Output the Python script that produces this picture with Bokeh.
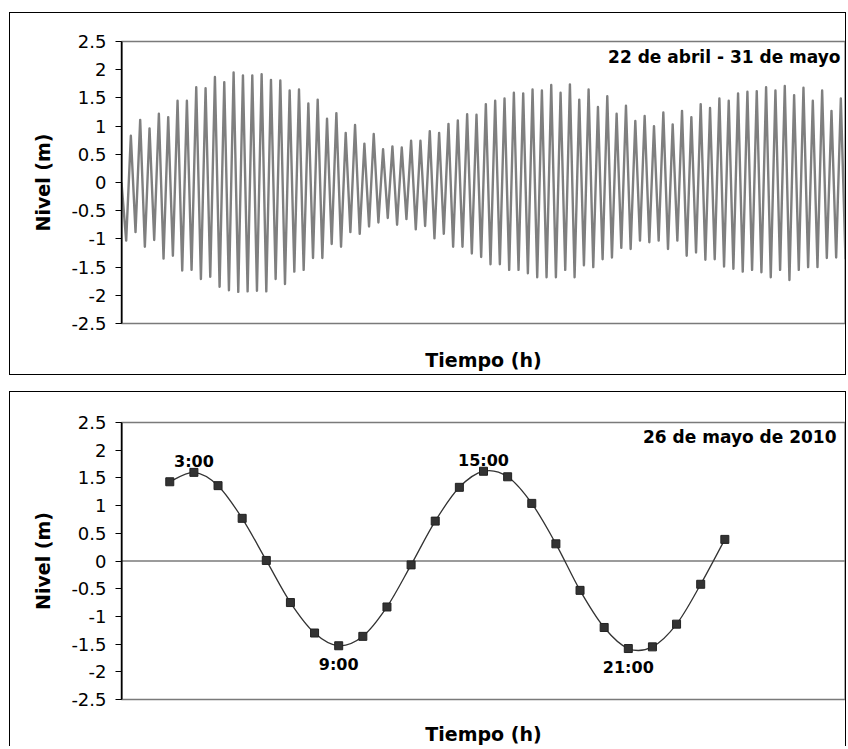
from bokeh.plotting import figure
from bokeh.models import Range1d, FixedTicker, Span, CustomJSTickFormatter
from bokeh.layouts import column
from bokeh.core.properties import value
from bokeh.embed import file_html
from bokeh.resources import INLINE

FONT = "DejaVu Sans"

# ---------------- data: top chart (extremes of each tidal half-cycle) ----------------
top_title = "22 de abril - 31 de mayo"
top_start = 0.0
top_lows = [-1.03, -0.88, -1.14, -1.02, -1.35, -1.30, -1.56, -1.55, -1.71, -1.67,
            -1.85, -1.91, -1.94, -1.93, -1.92, -1.93, -1.71, -1.80, -1.58, -1.55,
            -1.34, -1.34, -1.09, -1.14, -0.88, -0.91, -0.78, -0.71, -0.63, -0.75,
            -0.65, -0.83, -0.77,
            -0.99, -0.91, -1.14, -1.14, -1.26, -1.32, -1.45, -1.45, -1.55, -1.55,
            -1.61, -1.68, -1.68, -1.68, -1.55, -1.68, -1.47, -1.50, -1.36, -1.33,
            -1.16, -1.18, -1.03, -1.06, -1.03, -1.18, -1.03, -1.30, -1.24, -1.37,
            -1.36, -1.49, -1.53, -1.58, -1.55, -1.59, -1.68, -1.55, -1.73, -1.55,
            -1.50, -1.50, -1.34, -1.33]
top_highs = [0.83, 1.11, 0.96, 1.22, 1.16, 1.45, 1.45, 1.69, 1.67, 1.87,
             1.78, 1.95, 1.90, 1.90, 1.92, 1.82, 1.81, 1.63, 1.65, 1.40,
             1.47, 1.13, 1.23, 0.88, 1.02, 0.69, 0.86, 0.59, 0.64, 0.62,
             0.74, 0.74, 0.91,
             0.88, 1.04, 1.10, 1.21, 1.20, 1.39, 1.45, 1.49, 1.59, 1.58,
             1.65, 1.63, 1.73, 1.59, 1.74, 1.47, 1.65, 1.34, 1.53, 1.22,
             1.36, 1.09, 1.18, 1.00, 1.24, 1.03, 1.27, 1.16, 1.39, 1.32,
             1.49, 1.45, 1.58, 1.61, 1.62, 1.69, 1.63, 1.71, 1.55, 1.68,
             1.45, 1.63, 1.27, 1.49]
top_end = -1.36

# ---------------- data: bottom chart (hourly, 26 May 2010) ----------------
day_title = "26 de mayo de 2010"
day_hours = [2, 3, 4, 5, 6, 7, 8, 9, 10, 11, 12, 13, 14, 15, 16, 17, 18, 19, 20, 21, 22, 23, 24, 25]
day_level = [1.43, 1.60, 1.36, 0.77, 0.01, -0.75, -1.30, -1.53, -1.36, -0.83, -0.07, 0.72,
             1.33, 1.62, 1.52, 1.04, 0.31, -0.53, -1.20, -1.58, -1.55, -1.14, -0.42, 0.39]
day_high_hours = [3, 15]
day_high_text = ["3:00", "15:00"]
day_low_hours = [9, 21]
day_low_text = ["9:00", "21:00"]

y_ticks = [-2.5, -2, -1.5, -1, -0.5, 0, 0.5, 1, 1.5, 2, 2.5]
x_title = "Tiempo (h)"
y_title = "Nivel (m)"


def base_figure(width, height, x_end, mb_top, mb_bottom, standoff):
    p = figure(width=width, height=height, output_backend="svg", toolbar_location=None,
               x_range=Range1d(0, x_end), y_range=Range1d(-2.5, 2.5),
               min_border_left=111, min_border_right=2,
               min_border_top=mb_top, min_border_bottom=mb_bottom)
    p.background_fill_color = "white"
    p.border_fill_color = "white"
    p.outline_line_color = "#7a7a7a"
    p.outline_line_width = 1.5
    p.xgrid.visible = False
    p.ygrid.visible = False

    ya = p.yaxis[0]
    ya.ticker = FixedTicker(ticks=y_ticks)
    ya.formatter = CustomJSTickFormatter(code="return tick.toString();")
    ya.axis_line_color = "black"
    ya.axis_line_width = 1.2
    ya.major_tick_line_color = "black"
    ya.major_tick_out = 6
    ya.major_tick_in = 0
    ya.minor_tick_line_color = None
    ya.major_label_standoff = 9
    ya.major_label_text_font = FONT
    ya.major_label_text_font_size = "18px"
    ya.major_label_text_color = "black"
    ya.axis_label = y_title
    ya.axis_label_text_font = FONT
    ya.axis_label_text_font_size = "19px"
    ya.axis_label_text_font_style = "bold"
    ya.axis_label_text_color = "black"
    ya.axis_label_standoff = 14

    xa = p.xaxis[0]
    xa.ticker = FixedTicker(ticks=[])
    xa.axis_line_color = None
    xa.major_tick_line_color = None
    xa.minor_tick_line_color = None
    xa.major_label_text_font_size = "0px"
    xa.axis_label = x_title
    xa.axis_label_text_font = FONT
    xa.axis_label_text_font_size = "19px"
    xa.axis_label_text_font_style = "bold"
    xa.axis_label_text_color = "black"
    xa.axis_label_standoff = standoff

    # frame edges: black value axis on the left, grey plot-area border on the right
    p.add_layout(Span(location=0, dimension="height", line_color="black",
                      line_width=2, level="overlay"))
    p.add_layout(Span(location=x_end, dimension="height", line_color="#7a7a7a",
                      line_width=2, level="overlay"))
    return p


# ---------------- top chart ----------------
top_seq = [top_start]
for lo, hi in zip(top_lows, top_highs):
    top_seq += [lo, hi]
top_seq.append(top_end)
top_x = list(range(len(top_seq)))

p1 = base_figure(837, 363, top_x[-1], 28, 53, 25)
p1.line(top_x, top_seq, line_color="#7f7f7f", line_width=2.4, line_join="round")
p1.text(x=[top_x[-1]], y=[2.5], text=[top_title], text_font=value(FONT),
        text_font_size=value("17px"), text_font_style="bold", text_color="black",
        text_align="right", text_baseline="middle", x_offset=-5, y_offset=15)
p1.margin = (12, 0, 0, 9)
p1.styles = {"border": "1px solid #000000"}

# ---------------- bottom chart ----------------
p2 = base_figure(837, 355, 30, 30, 47, 23)
p2.add_layout(Span(location=0, dimension="width", line_color="#7a7a7a",
                   line_width=1.5, level="underlay"))

n = len(day_hours)
x0, y0, x1, y1, cx0, cy0, cx1, cy1 = [], [], [], [], [], [], [], []
for i in range(n - 1):
    a = i - 1 if i > 0 else i
    d = i + 2 if i + 2 < n else i + 1
    x0.append(day_hours[i]); y0.append(day_level[i])
    x1.append(day_hours[i + 1]); y1.append(day_level[i + 1])
    cx0.append(day_hours[i] + (day_hours[i + 1] - day_hours[a]) / 6)
    cy0.append(day_level[i] + (day_level[i + 1] - day_level[a]) / 6)
    cx1.append(day_hours[i + 1] - (day_hours[d] - day_hours[i]) / 6)
    cy1.append(day_level[i + 1] - (day_level[d] - day_level[i]) / 6)
p2.bezier(x0=x0, y0=y0, x1=x1, y1=y1, cx0=cx0, cy0=cy0, cx1=cx1, cy1=cy1,
          line_color="#333333", line_width=1.3)
p2.scatter(day_hours, day_level, marker="square", size=8,
           fill_color="#333333", line_color="#222222")

lvl = dict(zip(day_hours, day_level))
p2.text(x=day_high_hours, y=[lvl[h] for h in day_high_hours], text=day_high_text,
        text_font=value(FONT), text_font_size=value("16px"), text_font_style="bold",
        text_color="black", text_align="center", text_baseline="alphabetic", y_offset=-11)
p2.text(x=day_low_hours, y=[lvl[h] for h in day_low_hours], text=day_low_text,
        text_font=value(FONT), text_font_size=value("16px"), text_font_style="bold",
        text_color="black", text_align="center", text_baseline="alphabetic", y_offset=19)
p2.text(x=[30], y=[2.5], text=[day_title], text_font=value(FONT),
        text_font_size=value("17px"), text_font_style="bold", text_color="black",
        text_align="right", text_baseline="middle", x_offset=-9, y_offset=14)
p2.margin = (16, 0, 0, 9)
p2.styles = {"border": "1px solid #000000", "border-bottom": "none"}

layout = column(p1, p2, spacing=0)
open("out.html", "w").write(file_html(layout, INLINE))
